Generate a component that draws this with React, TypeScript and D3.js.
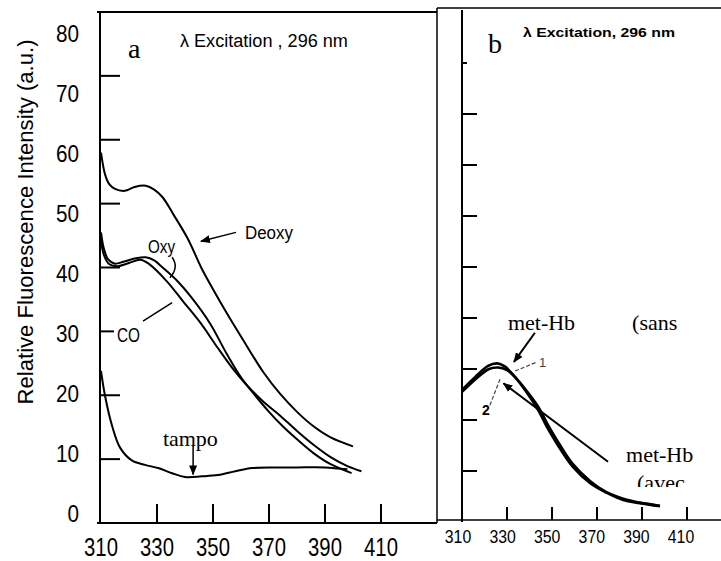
import React from 'react';
import * as d3 from 'd3';

type P = [number, number];

// ---------- data (panel a) ----------
const yTicksA = [0, 10, 20, 30, 40, 50, 60, 70, 80];
const xTickLabels = [310, 330, 350, 370, 390, 410];
const deoxy: P[] = [[310,58],[311.5,54.5],[313,53],[315,52.3],[318.5,52],[322,52.6],[326,52.8],[329,52.2],[332,51],[336,48.2],[341,44.5],[346,39.8],[350,36.6],[355,32.8],[360,29.2],[368,23.6],[374,20.2],[380,17.4],[386,15.1],[392,13.4],[400,12]];
const oxy: P[] = [[310,45.5],[311,43],[312.5,41.3],[315,40.6],[318,40.9],[322,41.4],[326,41.6],[329,41.1],[332,40],[337,38],[342.5,35.2],[349,31.2],[355,26.4],[360,22.8],[365,20],[370,17.4],[375,15.1],[380,13.1],[386,10.9],[392,9.2],[399.5,7.8]];
const co: P[] = [[310,44.5],[311,42],[313,40.5],[316,40.2],[320,40.7],[324,41.2],[327,40.6],[333.6,37.8],[339.3,34.7],[345.4,31.4],[351.4,27.6],[357,24.2],[362,21.6],[368,19.0],[374,16.8],[380,14.4],[386,12.2],[392,10.3],[398,8.9],[403,8.1]];
const tampo: P[] = [[310,23.8],[311.4,20],[313.9,15.3],[316.8,11.8],[321,9.8],[325.7,9.1],[330.4,8.6],[335.4,7.8],[340,7.2],[346,7.3],[351.8,7.5],[358,8.1],[364,8.6],[372,8.7],[380,8.7],[390,8.7],[398,8.4]];

// ---------- data (panel b) ----------
const yTicksB = [10, 20, 30, 40, 50, 60, 70, 80, 90];
const metHb1: P[] = [[310,25.9],[315.8,28.4],[321.6,30.6],[325.6,31.1],[329,30.5],[333.6,28.4],[338,25.9],[343.8,22],[347.8,18.6],[352,15.5],[359.3,10.8],[367,7.6],[374.4,5.7],[381.6,4.3],[389,3.7],[398,3.1]];
const metHb2: P[] = [[310,25.5],[316,28],[322,30],[326,30.3],[330,29.8],[334,28.2],[338,26.1],[344,22.5],[348,19.2],[352,16.2],[359,11.5],[367,8],[374,5.9],[382,4.5],[389,3.8],[398,3.2]];

const FONT_SANS = "'Liberation Sans', 'DejaVu Sans', sans-serif";
const FONT_SERIF = "'Liberation Serif', 'DejaVu Serif', serif";

export default function App() {
  const xa = d3.scaleLinear().domain([310, 410]).range([101, 381]);
  const ya = d3.scaleLinear().domain([0, 80]).range([523, 12]);
  const yaLabel = d3.scaleLinear().domain([0, 80]).range([514, 34]);
  const xb = d3.scaleLinear().domain([310, 410]).range([462, 687]);
  const xbLabel = d3.scaleLinear().domain([310, 410]).range([458, 681]);
  const yb = d3.scaleLinear().domain([0, 90]).range([522, 63]);

  const lineA = d3.line<P>().x(d => xa(d[0])).y(d => ya(d[1])).curve(d3.curveCatmullRom.alpha(0.5));
  const lineB = d3.line<P>().x(d => xb(d[0])).y(d => yb(d[1])).curve(d3.curveCatmullRom.alpha(0.5));

  const A = (nm: number, v: number) => [xa(nm), ya(v)];
  const B = (nm: number, v: number) => [xb(nm), yb(v)];

  const [dA1, dA2] = [A(358.2, 45.5), A(345.7, 44.1)];
  const [oL1, oL2, oL3] = [A(335.4, 41.6), A(336.9, 40.0), A(334.6, 38.4)];
  const [cL1, cL2] = [A(325, 31.6), A(335.4, 34.5)];
  const [tA1, tA2] = [A(342.9, 12.2), A(342.9, 7.6)];
  const [bU1, bU2] = [B(342.4, 37.1), B(333.1, 31.4)];
  const [bL1, bL2] = [B(374.9, 11.8), B(328.4, 27.2)];
  const [l1a, l1b] = [B(333.6, 29.6), B(342.9, 31.3)];
  const [l2a, l2b] = [B(322.4, 22.9), B(326.9, 28.0)];

  return (
    <div>
      <svg width={721} height={561} style={{ position: 'absolute', left: 0, top: 0, background: '#fff' }}>
        <defs>
          <marker id="arr" viewBox="0 0 10 10" refX="9" refY="5" markerWidth="10" markerHeight="10" markerUnits="userSpaceOnUse" orient="auto">
            <path d="M0,1 L10,5 L0,9 z" fill="#000" />
          </marker>
          <clipPath id="clipAvec">
            <rect x={560} y={400} width={161} height={87} />
          </clipPath>
        </defs>
        <rect x={0} y={0} width={721} height={561} fill="#fff" />

        {/* ---------- frames ---------- */}
        <line x1={97} x2={437} y1={ya(80)} y2={ya(80)} stroke="#000" strokeWidth={2.2} />
        <line x1={xa(310) - 1} x2={xa(310) - 1} y1={ya(80)} y2={ya(0) + 1} stroke="#000" strokeWidth={2} />
        <line x1={97} x2={437} y1={ya(0)} y2={ya(0)} stroke="#000" strokeWidth={2} />
        <line x1={437} x2={437} y1={8} y2={ya(0)} stroke="#000" strokeWidth={1.5} />
        <line x1={437} x2={721} y1={8} y2={8} stroke="#000" strokeWidth={1.5} />
        <line x1={xb(310)} x2={xb(310)} y1={10} y2={yb(0)} stroke="#000" strokeWidth={2} />
        <line x1={437} x2={721} y1={yb(0) - 2} y2={yb(0) - 2} stroke="#000" strokeWidth={1.5} />

        {/* ---------- panel a ticks ---------- */}
        {yTicksA.filter(t => t > 0 && t < 80).map(t => (
          <line key={'yta' + t} x1={xa(310)} x2={xa(310) + (t === 30 ? 13 : 19)} y1={ya(t)} y2={ya(t)} stroke="#000" strokeWidth={2} />
        ))}
        {yTicksA.map(t => (
          <g key={'yla' + t} transform={`translate(79,${yaLabel(t)}) scale(0.9,1)`}>
            <text x={0} y={0} textAnchor="end" dominantBaseline="central" fontFamily={FONT_SANS} fontSize={23}>{t}</text>
          </g>
        ))}
        {xTickLabels.filter(t => t > 310).map(t => (
          <line key={'xta' + t} x1={xa(t)} x2={xa(t)} y1={ya(0)} y2={ya(0) - 19} stroke="#000" strokeWidth={2} />
        ))}
        {xTickLabels.map(t => (
          <g key={'xla' + t} transform={`translate(${xa(t)},556) scale(0.78,1)`}>
            <text x={0} y={0} textAnchor="middle" fontFamily={FONT_SANS} fontSize={26}>{t}</text>
          </g>
        ))}

        {/* y axis title */}
        <text transform="translate(33,222) rotate(-90)" textAnchor="middle" fontFamily={FONT_SANS} fontSize={22}
          textLength={365} lengthAdjust="spacingAndGlyphs">Relative Fluorescence Intensity (a.u.)</text>

        {/* ---------- panel a curves ---------- */}
        {[deoxy, oxy, co, tampo].map((s, i) => (
          <path key={'ca' + i} d={lineA(s) || ''} fill="none" stroke="#000" strokeWidth={2} />
        ))}

        {/* panel a labels */}
        <text x={xa(319.6)} y={ya(72.8)} fontFamily={FONT_SERIF} fontSize={28}>a</text>
        <text x={xa(338.2)} y={ya(74.5)} fontFamily={FONT_SANS} fontSize={18} textLength={168} lengthAdjust="spacingAndGlyphs">λ Excitation , 296 nm</text>
        <text x={xa(361.4)} y={ya(44.4)} fontFamily={FONT_SANS} fontSize={18} textLength={48} lengthAdjust="spacingAndGlyphs">Deoxy</text>
        <line x1={dA1[0]} y1={dA1[1]} x2={dA2[0]} y2={dA2[1]} stroke="#000" strokeWidth={1.5} markerEnd="url(#arr)" />
        <text x={xa(326.8)} y={ya(42.3)} fontFamily={FONT_SANS} fontSize={18} textLength={27} lengthAdjust="spacingAndGlyphs">Oxy</text>
        <path d={`M${oL1[0]},${oL1[1]} Q${oL2[0] + 3},${oL2[1]} ${oL3[0]},${oL3[1]}`} fill="none" stroke="#000" strokeWidth={1.5} />
        <text x={xa(315.7)} y={ya(28.4)} fontFamily={FONT_SANS} fontSize={20} textLength={23} lengthAdjust="spacingAndGlyphs">CO</text>
        <line x1={cL1[0]} y1={cL1[1]} x2={cL2[0]} y2={cL2[1]} stroke="#000" strokeWidth={1.5} />
        <text x={xa(332.1)} y={ya(12.0)} fontFamily={FONT_SERIF} fontSize={22}>tampo</text>
        <line x1={tA1[0]} y1={tA1[1]} x2={tA2[0]} y2={tA2[1]} stroke="#000" strokeWidth={1.5} markerEnd="url(#arr)" />

        {/* ---------- panel b ticks ---------- */}
        {yTicksB.map(t => (
          <line key={'ytb' + t} x1={xb(310)} x2={xb(310) + (t === 90 ? 5 : 15)} y1={yb(t)} y2={yb(t)} stroke="#000" strokeWidth={2} />
        ))}
        {xTickLabels.filter(t => t > 310).map(t => (
          <line key={'xtb' + t} x1={xb(t)} x2={xb(t)} y1={yb(0) - 2} y2={yb(0) - 15} stroke="#000" strokeWidth={2} />
        ))}
        {xTickLabels.map(t => (
          <g key={'xlb' + t} transform={`translate(${xbLabel(t)},543) scale(0.88,1)`}>
            <text x={0} y={0} textAnchor="middle" fontFamily={FONT_SANS} fontSize={18}>{t}</text>
          </g>
        ))}

        {/* ---------- panel b curves ---------- */}
        {[metHb1, metHb2].map((s, i) => (
          <path key={'cb' + i} d={lineB(s) || ''} fill="none" stroke="#000" strokeWidth={2.6} />
        ))}

        {/* panel b labels */}
        <text x={xb(321.6)} y={53} fontFamily={FONT_SERIF} fontSize={28}>b</text>
        <text x={xb(337.1)} y={yb(95.1)} fontFamily={FONT_SANS} fontSize={13} fontWeight={600} textLength={152} lengthAdjust="spacingAndGlyphs">λ Excitation, 296 nm</text>
        <text x={xb(330.4)} y={yb(37.6)} fontFamily={FONT_SERIF} fontSize={22}>met-Hb</text>
        <text x={xb(385.6)} y={yb(37.6)} fontFamily={FONT_SERIF} fontSize={22}>(sans</text>
        <line x1={bU1[0]} y1={bU1[1]} x2={bU2[0]} y2={bU2[1]} stroke="#000" strokeWidth={2} markerEnd="url(#arr)" />
        <text x={xb(382.9)} y={yb(11.8)} fontFamily={FONT_SERIF} fontSize={22}>met-Hb</text>
        <text x={xb(387.8)} y={yb(6.3)} fontFamily={FONT_SERIF} fontSize={22} clipPath="url(#clipAvec)">(avec</text>
        <line x1={bL1[0]} y1={bL1[1]} x2={bL2[0]} y2={bL2[1]} stroke="#000" strokeWidth={2} markerEnd="url(#arr)" />
        <text x={xb(344.2)} y={yb(30.4)} fontFamily={FONT_SANS} fontSize={13} fill="#444">1</text>
        <line x1={l1a[0]} y1={l1a[1]} x2={l1b[0]} y2={l1b[1]} stroke="#444" strokeWidth={1.2} strokeDasharray="4,2" />
        <text x={xb(318.9)} y={yb(21)} fontFamily={FONT_SANS} fontSize={14} fontWeight={600}>2</text>
        <line x1={l2a[0]} y1={l2a[1]} x2={l2b[0]} y2={l2b[1]} stroke="#444" strokeWidth={1.2} strokeDasharray="4,2" />
      </svg>
    </div>
  );
}
